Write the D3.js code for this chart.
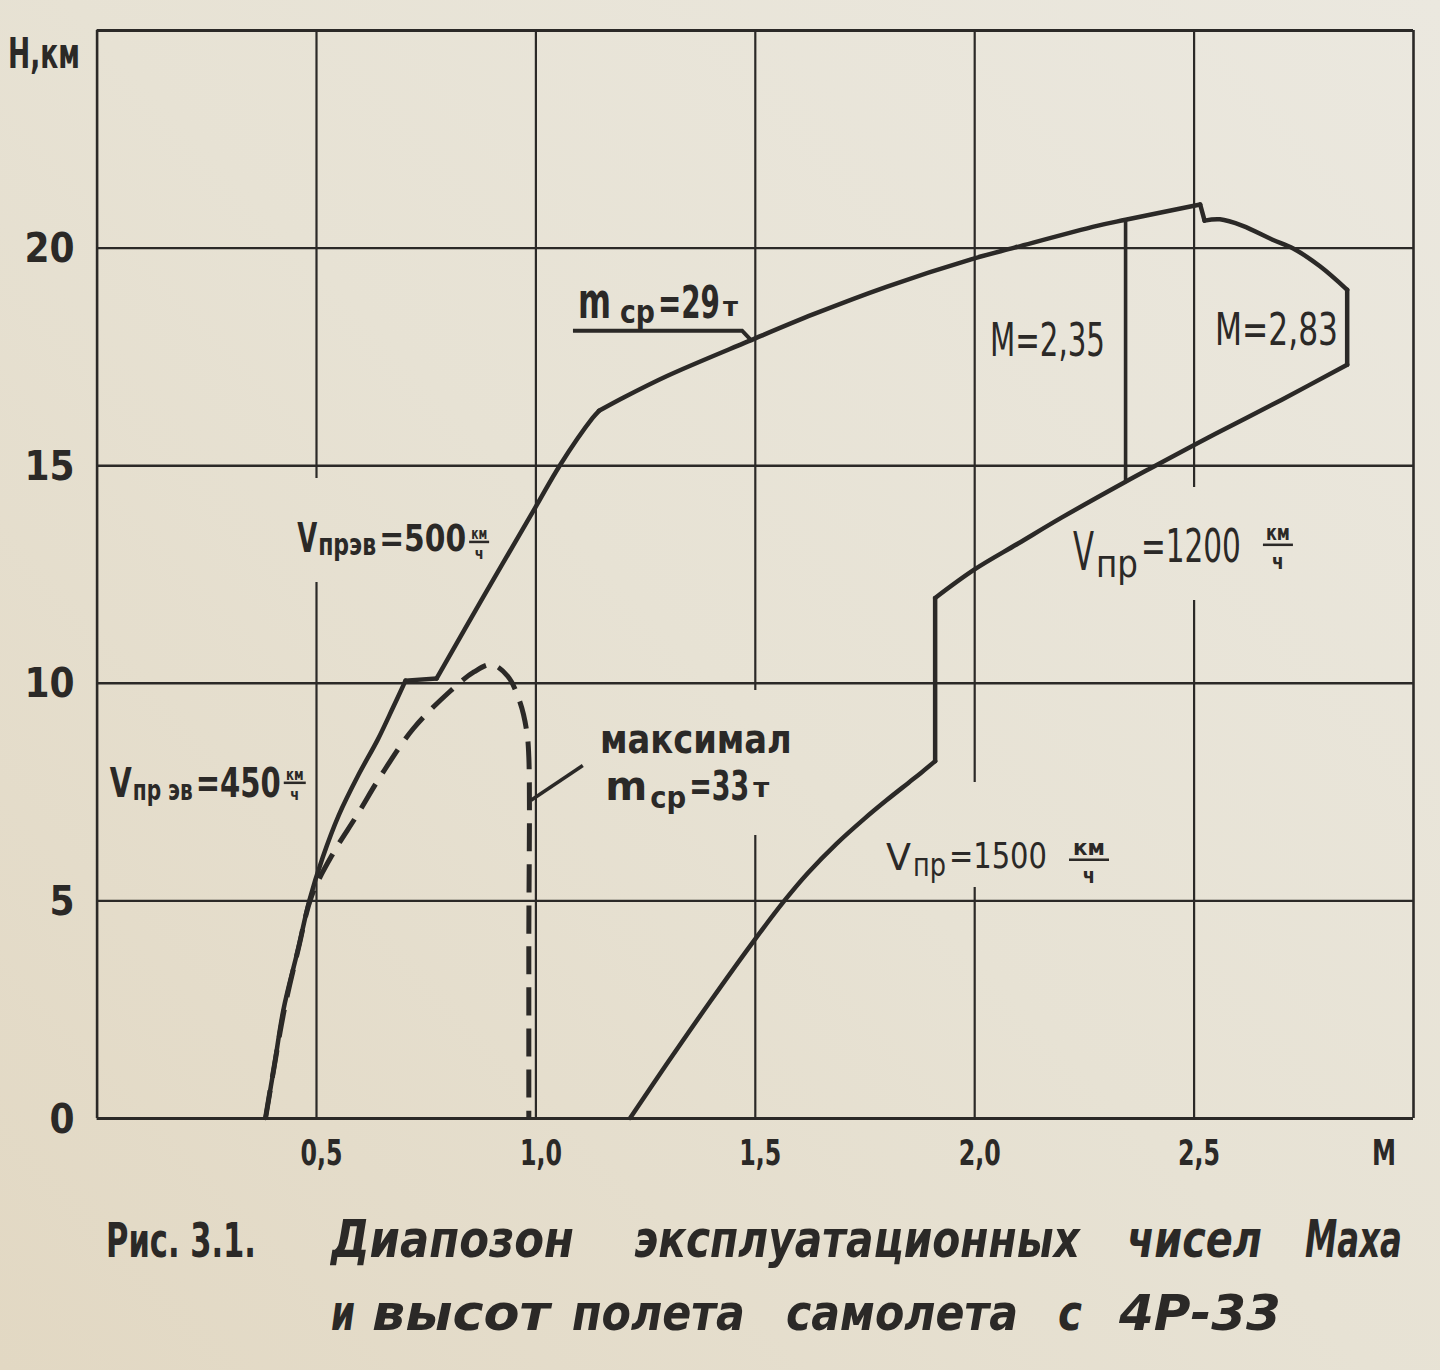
<!DOCTYPE html>
<html><head><meta charset="utf-8">
<script src="https://cdn.jsdelivr.net/npm/d3@7"></script>
<style>
html,body{margin:0;padding:0;background:#e8e3d4;}
svg{display:block;}
</style></head><body>
<svg id="chart" width="1440" height="1370"></svg>
<script>
// ---------- data (M, H km) ----------
const xTickValues = [0.5, 1.0, 1.5, 2.0, 2.5];
const yTickValues = [0, 5, 10, 15, 20];
const xGridValues = [0, 0.5, 1.0, 1.5, 2.0, 2.5, 3.0];
const yGridValues = [0, 5, 10, 15, 20, 25];

// V пр эв = 450 km/h boundary (solid)
const vEq450 = [[0.385,0],[0.405,1.2],[0.426,2.5],[0.459,3.87],[0.485,5.0],[0.515,5.98],[0.552,6.96],[0.596,7.87],[0.641,8.70],[0.675,9.42],[0.704,10.05]];
const shelf10 = [[0.704,10.05],[0.775,10.1]];
// V пр эв = 500 km/h boundary
const vEq500 = [[0.775,10.1],[0.88,11.95],[1.0,14.03],[1.056,15.0],[1.13,16.08],[1.145,16.25]];
// ceiling, m ср = 29 t
const ceiling29 = [[1.145,16.25],[1.2,16.55],[1.3,17.05],[1.486,17.85],[1.634,18.47],[1.8,19.1],[1.993,19.73],[2.092,20.0],[2.28,20.5],[2.345,20.64],[2.515,20.99]];
const ceilingDrop = [[2.515,20.99],[2.525,20.62]];
const rightCurve = [[2.525,20.62],[2.56,20.65],[2.612,20.5],[2.68,20.18],[2.727,19.98],[2.788,19.57],[2.85,19.03]];
// M = 2.83 limit
const m283 = [[2.85,19.03],[2.85,17.31]];
// M = 2.35 limit
const m235 = [[2.345,20.64],[2.345,14.62]];
// V пр = 1200 km/h
const v1200 = [[2.85,17.31],[2.7,16.5],[2.55,15.72],[2.4,14.92],[2.345,14.62],[2.2,13.8],[2.1,13.2],[2.0,12.6],[1.911,11.95]];
const jump = [[1.911,11.95],[1.911,8.2]];
// V пр = 1500 km/h
const v1500 = [[1.911,8.2],[1.88,7.94],[1.85,7.7],[1.80,7.3],[1.75,6.88],[1.686,6.3],[1.62,5.62],[1.568,5.0],[1.50,4.1],[1.40,2.7],[1.30,1.25],[1.216,0]];
// maximum m ср = 33 t (dashed)
const maxMass33 = [[0.385,0],[0.405,1.2],[0.428,2.5],[0.46,3.9],[0.49,5.1],[0.54,6.1],[0.593,6.95],[0.65,7.9],[0.722,8.95],[0.805,9.8],[0.86,10.25],[0.90,10.42],[0.937,10.15],[0.965,9.55],[0.98,8.9],[0.985,8.3],[0.985,4.0],[0.985,0]];

const captionLine1 = ["Диапозон", "эксплуатационных", "чисел", "Маха"];
const captionLine2 = ["и", "высот", "полета", "самолета", "с", "4Р-33"];

// ---------- setup ----------
const ink = "#2b2927";
const font = "'DejaVu Sans Condensed','DejaVu Sans',sans-serif";
const svg = d3.select("#chart");
const defs = svg.append("defs");
const grad = defs.append("linearGradient").attr("id","paper").attr("gradientUnits","userSpaceOnUse")
  .attr("x1",1440).attr("y1",0).attr("x2",0).attr("y2",1370);
grad.append("stop").attr("offset",0).attr("stop-color","#ebe8df");
grad.append("stop").attr("offset",0.5).attr("stop-color","#e7e2d4");
grad.append("stop").attr("offset",1).attr("stop-color","#e2d8c3");
svg.append("rect").attr("width",1440).attr("height",1370).attr("fill","url(#paper)");

const x = d3.scaleLinear().domain([0,3]).range([96.6,1413]);
const y = d3.scaleLinear().domain([0,25]).range([1118,30]);

// text whose natural width is fitted to a target width; height kept via vertical scale
function fitText(parent, str, px, py, targetW, size, weight, style, anchor) {
  const t = parent.append("text").attr("font-family",font).attr("fill",ink)
    .attr("font-size",size).attr("font-weight",weight||"normal").attr("font-style",style||null)
    .attr("text-anchor",anchor||null).text(str);
  const w0 = t.node().getComputedTextLength() || targetW;
  const k = targetW / w0;
  t.attr("font-size", size*k).attr("transform",`translate(${px},${py}) scale(1,${1/k})`);
  return t;
}

// ---------- grid ----------
const gridX = svg.append("g").attr("transform",`translate(0,${y(0)})`)
  .call(d3.axisBottom(x).tickValues(xGridValues).tickSize(-(y(0)-y(25))).tickFormat(""));
gridX.select(".domain").remove();
gridX.selectAll("line").attr("stroke",ink).attr("stroke-width",d => (d===0||d===3)?2.6:2.2);
const gridY = svg.append("g").attr("transform",`translate(${x(0)},0)`)
  .call(d3.axisLeft(y).tickValues(yGridValues).tickSize(-(x(3)-x(0))).tickFormat(""));
gridY.select(".domain").remove();
gridY.selectAll("line").attr("stroke",ink).attr("stroke-width",d => (d===0||d===25)?3:2.4);

// knockouts where the draftsman broke grid lines behind labels
const knock = [[290,478,222,104],[1062,487,240,113],[878,782,240,105],[594,690,206,145]];
svg.append("g").selectAll("rect").data(knock).join("rect")
  .attr("x",d=>d[0]).attr("y",d=>d[1]).attr("width",d=>d[2]).attr("height",d=>d[3]).attr("fill","url(#paper)");

// ---------- axis labels ----------
const fmtX = d => d.toFixed(1).replace(".",",");
const ax = svg.append("g").attr("transform",`translate(0,${y(0)})`)
  .call(d3.axisBottom(x).tickValues(xTickValues).tickSize(0).tickFormat(fmtX));
ax.select(".domain").remove();
ax.selectAll("text").attr("font-family",font).attr("font-size",36).attr("font-weight","bold")
  .attr("fill",ink).attr("dy",null).attr("y",47).attr("x",5)
  .attr("textLength",42).attr("lengthAdjust","spacingAndGlyphs");
fitText(svg, "M", 1384, 1165, 24, 36, "bold", null, "middle");

const ay = svg.append("g").attr("transform",`translate(${x(0)},0)`)
  .call(d3.axisLeft(y).tickValues(yTickValues).tickSize(0).tickFormat(d3.format("d")));
ay.select(".domain").remove();
ay.selectAll("text").attr("font-family",font).attr("font-size",40).attr("font-weight","bold")
  .attr("fill",ink).attr("dy",null).attr("y",14).attr("x",-22);

fitText(svg, "H,км", 8, 68, 72, 42, "bold");

// ---------- curves ----------
const line = d3.line().x(d=>x(d[0])).y(d=>y(d[1])).curve(d3.curveCatmullRom.alpha(0.5));
const curves = svg.append("g").attr("fill","none").attr("stroke",ink)
  .attr("stroke-linejoin","round").attr("stroke-linecap","round");
[vEq450, shelf10, vEq500, ceiling29, ceilingDrop, rightCurve, m283, v1200, jump, v1500].forEach(s => {
  curves.append("path").attr("d",line(s)).attr("stroke-width",4.5);
});
curves.append("path").attr("d",line(m235)).attr("stroke-width",3.6);
curves.append("path").attr("d",line(maxMass33)).attr("stroke-width",5)
  .attr("stroke-linecap","butt").attr("stroke-dasharray","28,13");

// ---------- annotations ----------
const annot = svg.append("g");

// piece: [text, width, fontSize, dy, weight, gapBefore]
function pieces(M0, H0, list) {
  const g = annot.append("g").attr("transform",`translate(${x(M0)},${y(H0)})`);
  let cx = 0;
  list.forEach(p => {
    cx += (p[5] || 0);
    fitText(g, p[0], cx, p[3], p[1], p[2], p[4]);
    cx += p[1];
  });
  return {g, end: cx};
}
function fraction(g, cx, w, size, kmDy, lineDy, chDy) {
  fitText(g, "км", cx + w*0.1, kmDy, w*0.8, size, "bold");
  g.append("line").attr("x1",cx).attr("x2",cx + w).attr("y1",lineDy).attr("y2",lineDy)
    .attr("stroke",ink).attr("stroke-width",2.5);
  fitText(g, "ч", cx + w*0.5 - size*0.28, chDy, size*0.56, size, "bold");
}

// V пр эв = 500 км/ч
let L = pieces(0.457, 13.03, [["V",20,40,1,"bold"],["прэв",58,30,4,"bold",1],["=500",87,38,0,"bold",3]]);
fraction(L.g, L.end + 3, 20, 16, -12, -9, 8);
// V пр эв = 450 км/ч
L = pieces(0.03, 7.38, [["V",22,40,0,"bold"],["пр эв",60,28,3,"bold",1],["=450",85,40,0,"bold",3]]);
fraction(L.g, L.end + 3, 22, 16, -17, -14, 3);
// V пр = 1200 км/ч
L = pieces(2.225, 12.78, [["V",21,54,8,"normal"],["пр",42,38,15,"normal",2],["=1200",100,46,0,"normal",3]]);
fraction(L.g, L.end + 22, 30, 21, -22, -17, 7);
// V пр = 1500 км/ч
L = pieces(1.799, 5.75, [["V",25,38,2,"normal"],["пр",33,32,8,"normal",2],["=1500",98,36,0,"normal",3]]);
fraction(L.g, L.end + 22, 40, 22, -13, -8, 15);

// M = 2,35 / 2,83
fitText(annot, "M=2,35", x(2.036), y(17.52), 115, 46, "normal");
fitText(annot, "M=2,83", x(2.549), y(17.77), 123, 44, "normal");

// m ср = 29 т with leader
pieces(1.097, 18.39, [["m",33,50,0,"bold"],["ср",35,32,5,"bold",9],["=29",62,44,0,"bold",3],["т",15,26,-2,"bold",3]]);
const x29 = x(1.097), y29 = y(18.39);
annot.append("path").attr("d",`M${x29-5},${y29+13}H${x(1.471)}L${x(1.492)},${y(17.87)}`)
  .attr("fill","none").attr("stroke",ink).attr("stroke-width",4);

fitText(annot, "максимал", x(1.147), y(8.39), 192, 40, "bold");
pieces(1.159, 7.31, [["m",42,40,0,"bold"],["ср",36,30,8,"bold",3],["=33",60,40,0,"bold",3],["т",16,26,-3,"bold",4]]);
annot.append("line").attr("x1",x(0.99)).attr("y1",y(7.3)).attr("x2",x(1.108)).attr("y2",y(8.1))
  .attr("stroke",ink).attr("stroke-width",3.5);

// ---------- caption ----------
const cap = svg.append("g");
fitText(cap, "Рис. 3.1.", 106, 1257, 150, 48, "bold");
const line1Pos = [[331,574],[634,1080],[1127,1262],[1305,1402]];
const line2Pos = [[331,355],[372,550],[572,745],[786,1018],[1058,1082],[1119,1281]];
captionLine1.forEach((w,i) => fitText(cap, w, line1Pos[i][0], 1257, line1Pos[i][1]-line1Pos[i][0], 52, "bold", "italic"));
captionLine2.forEach((w,i) => fitText(cap, w, line2Pos[i][0], 1330, line2Pos[i][1]-line2Pos[i][0], 50, "bold", "italic"));
</script>
</body></html>
